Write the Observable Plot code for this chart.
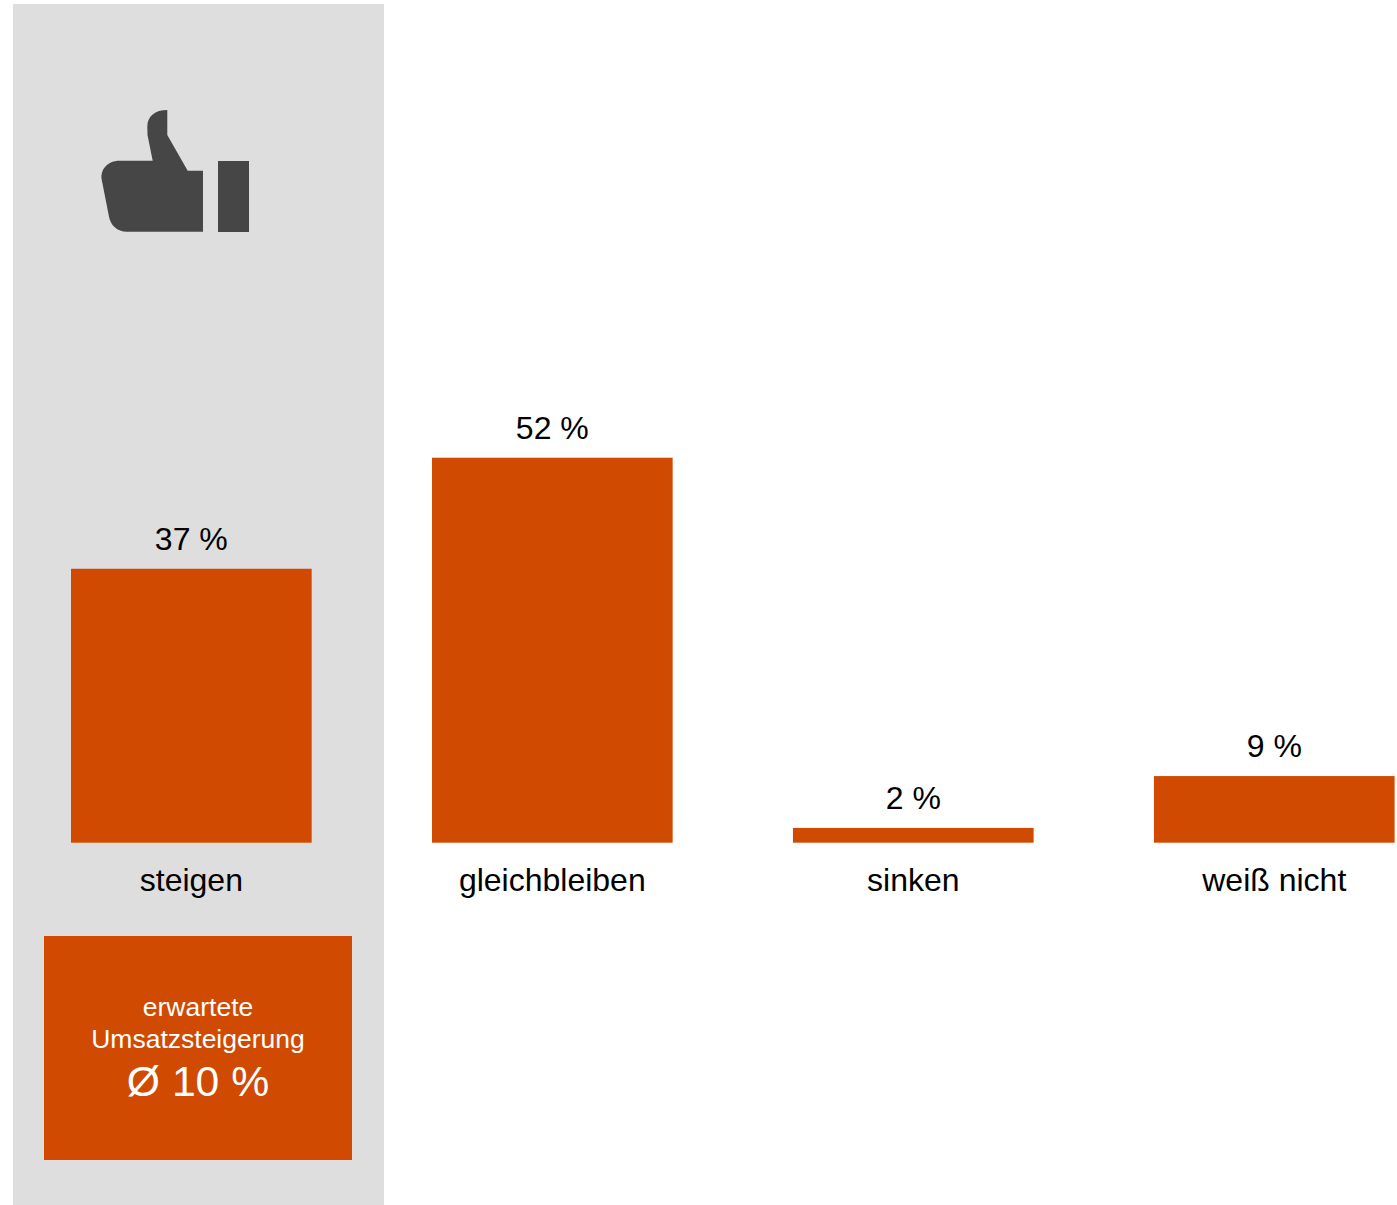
<!DOCTYPE html>
<html>
<head>
<meta charset="utf-8">
<script src="https://cdn.jsdelivr.net/npm/d3@7"></script>
<script src="https://cdn.jsdelivr.net/npm/@observablehq/plot@0.6"></script>
<style>
html,body{margin:0;padding:0;background:#fff;}
svg{display:block;}
</style>
</head>
<body>
<div id="chart"></div>
<script>
const categories = ["steigen", "gleichbleiben", "sinken", "weiß nicht"];
const shares = [37, 52, 2, 9];
const averageLines = ["erwartete", "Umsatzsteigerung"];
const averageValue = "Ø 10 %";
const barColor = "#d04a02";
const panelColor = "#dedede";
const iconColor = "#464646";

const rows = categories.map((category, i) => ({category, share: shares[i]}));

// Thumbs-up outline: fist with raised thumb.
const thumb = "M152.7 160.7 L147.5 135 L147.3 127 C147.3 116 155 110 167.3 110 L167.3 135 L187.7 170.7 L203 170.7 L203 231.7 L127 231.7 C117 231.7 110.5 225 109 216.7 L101.6 179 C100.5 169 108 160.7 119 160.7 Z";

const chart = Plot.plot({
  width: 1397,
  height: 1205,
  margin: 0,
  marginLeft: 71,
  marginRight: 2.4,
  marginTop: 0,
  marginBottom: 362,
  style: {background: "transparent", fontFamily: "Liberation Sans, Arial, sans-serif", overflow: "visible"},
  x: {domain: categories, axis: null, paddingInner: 0.3333, paddingOuter: 0, round: false},
  y: {domain: [0, 52], range: [842.7, 457.7], axis: null},
  marks: [
    // Grey side panel, thumb icon and the average box behind the bars.
    () => {
      const g = d3.create("svg:g");
      g.append("rect").attr("x", 13).attr("y", 4).attr("width", 371).attr("height", 1201).attr("fill", panelColor);
      g.append("rect").attr("x", 44).attr("y", 936).attr("width", 308).attr("height", 224).attr("fill", barColor);
      g.append("path").attr("d", thumb).attr("fill", iconColor);
      g.append("rect").attr("x", 218).attr("y", 161).attr("width", 31).attr("height", 71).attr("fill", iconColor);
      const t = (s, y, size) => g.append("text").attr("x", 198).attr("y", y).attr("text-anchor", "middle")
        .attr("fill", "#fff").attr("font-size", size).text(s);
      t(averageLines[0], 1016, 26.5);
      t(averageLines[1], 1048, 26.5);
      t(averageValue, 1096, 42.7);
      return g.node();
    },
    Plot.barY(rows, {x: "category", y: "share", fill: barColor}),
    Plot.text(rows, {x: "category", y: "share", text: d => `${d.share} %`, dx: -0.5, dy: -29.6, fontSize: 32, fill: "#000", textAnchor: "middle", lineAnchor: "middle"}),
    Plot.text(rows, {x: "category", y: 0, text: "category", dx: -0.5, dy: 37.7, fontSize: 32, fill: "#000", textAnchor: "middle", lineAnchor: "middle"})
  ]
});
document.getElementById("chart").appendChild(chart);
</script>
</body>
</html>
